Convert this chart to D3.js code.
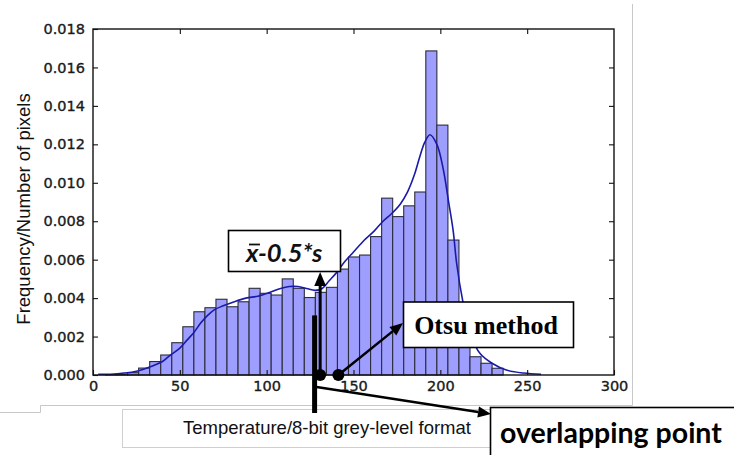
<!DOCTYPE html>
<html>
<head>
<meta charset="utf-8">
<script src="https://cdn.jsdelivr.net/npm/d3@7"></script>
<style>
  body { margin: 0; background: #fff; }
  svg { display: block; }
</style>
</head>
<body>
<svg width="734" height="455"></svg>
<script>
// histogram bin edges (grey level) and bar heights (density)
var binEdges = [7.2, 13.56, 19.92, 26.28, 32.64, 39.0, 45.36, 51.72, 58.08, 64.44,
    70.8, 77.16, 83.52, 89.88, 96.24, 102.6, 108.96, 115.32, 121.68, 128.04,
    134.4, 140.76, 147.12, 153.48, 159.84, 166.2, 172.56, 178.92, 185.28, 191.64,
    198.0, 204.36, 210.72, 217.08, 223.44, 229.8, 236.16];
var density = [0.00002, 0.00004, 0.00012, 0.00036, 0.00070, 0.00104, 0.00168, 0.00251, 0.00329, 0.00350,
    0.00394, 0.00355, 0.00381, 0.00451, 0.00425, 0.00416, 0.00500, 0.00451, 0.00403, 0.00430,
    0.00456, 0.00551, 0.00614, 0.00624, 0.00720, 0.00920, 0.00824, 0.00880, 0.00952, 0.01686,
    0.01300, 0.00702, 0.00280, 0.00095, 0.00061, 0.00035];

// kde curve
var kdeX = [3, 10, 18, 25, 33, 40, 44, 50, 54, 58, 62, 66, 70, 75, 81, 88, 95, 102, 108, 113,
    118, 123, 128, 132, 136, 140, 145, 150, 156, 162, 167, 172, 177, 181, 185, 188, 191, 194, 198,
    201.7, 204.6, 207.4, 209.4, 213, 217, 223, 230, 238, 248, 258];
var kdeY = [0.00003, 0.00004, 0.0001, 0.0002, 0.00043, 0.0007, 0.001, 0.0014, 0.0018, 0.0022,
    0.0027, 0.0031, 0.0034, 0.0036, 0.0038, 0.0040, 0.0041, 0.0043, 0.0045, 0.0046,
    0.0046, 0.0045, 0.0044, 0.0045, 0.0049, 0.0053, 0.0059, 0.0064, 0.0070, 0.0075,
    0.0080, 0.0084, 0.0089, 0.0095, 0.0104, 0.0113, 0.0121, 0.0125, 0.0120,
    0.0107, 0.0091, 0.0075, 0.0058, 0.0038, 0.0022, 0.0011, 0.0006, 0.00026, 0.0001, 0.00004];

var xTicks = [0, 50, 100, 150, 200, 250, 300];
var yTicks = [0, 0.002, 0.004, 0.006, 0.008, 0.010, 0.012, 0.014, 0.016, 0.018];

// threshold markers (grey level)
var meanMinusHalfS = 130.8;
var otsuLevel = 141.3;
var overlapLevel = 127.6;

var svg = d3.select("svg"),
    width = +svg.attr("width"),
    height = +svg.attr("height");

var x = d3.scaleLinear().domain([0, 300]).range([93, 614]);
var y = d3.scaleLinear().domain([0, 0.018]).range([375, 29]);

svg.append("rect").attr("width", width).attr("height", height).attr("fill", "#fff");

// grey page frame bits
svg.append("polyline")
    .attr("points", "0,412.5 40.5,412.5 40.5,405.5 632.5,405.5 632.5,4")
    .attr("fill", "none")
    .attr("stroke", "#c8c8c8")
    .attr("stroke-width", 1);

// bars
svg.selectAll("rect.bar")
    .data(density)
    .enter().append("rect")
    .attr("class", "bar")
    .attr("x", function(d, i) { return x(binEdges[i]); })
    .attr("width", function(d, i) { return x(binEdges[i + 1]) - x(binEdges[i]); })
    .attr("y", function(d) { return y(d); })
    .attr("height", function(d) { return y(0) - y(d); })
    .attr("fill", "#9e9eff")
    .attr("stroke", "#2c2c3c")
    .attr("stroke-width", 1.1);

// kde line
var line = d3.line()
    .x(function(d, i) { return x(kdeX[i]); })
    .y(function(d) { return y(d); })
    .curve(d3.curveCatmullRom.alpha(0.5));

svg.append("path")
    .datum(kdeY)
    .attr("d", line)
    .attr("fill", "none")
    .attr("stroke", "#1a1aa8")
    .attr("stroke-width", 1.6);

// axes, ticks pointing inwards on all four sides
function styleAxis(g) {
    g.select(".domain").remove();
    g.selectAll(".tick line").attr("stroke", "#111").attr("stroke-width", 1.1);
    g.selectAll(".tick text")
        .attr("fill", "#1a1a1a")
        .attr("stroke", "#1a1a1a")
        .attr("stroke-width", 0.35)
        .style("font-family", "DejaVu Sans")
        .style("font-size", "14.5px");
}

svg.append("g")
    .attr("transform", "translate(0," + y(0) + ")")
    .call(d3.axisBottom(x).tickValues(xTicks).tickSize(-5).tickPadding(6).tickFormat(d3.format("d")))
    .call(styleAxis);

svg.append("g")
    .attr("transform", "translate(" + x(0) + ",0)")
    .call(d3.axisLeft(y).tickValues(yTicks).tickSize(-5).tickPadding(8).tickFormat(d3.format(".3f")))
    .call(styleAxis);

svg.append("g")
    .attr("transform", "translate(0," + y(0.018) + ")")
    .call(d3.axisTop(x).tickValues(xTicks.slice(1, -1)).tickSize(-5).tickFormat(""))
    .call(styleAxis);

svg.append("g")
    .attr("transform", "translate(" + x(300) + ",0)")
    .call(d3.axisRight(y).tickValues(yTicks.slice(1, -1)).tickSize(-5).tickFormat(""))
    .call(styleAxis);

svg.append("rect")
    .attr("x", x(0)).attr("y", y(0.018))
    .attr("width", x(300) - x(0)).attr("height", y(0) - y(0.018))
    .attr("fill", "none")
    .attr("stroke", "#111")
    .attr("stroke-width", 1.4);

// y label
svg.append("text")
    .attr("transform", "translate(30,209) rotate(-90)")
    .attr("text-anchor", "middle")
    .style("font-family", "Liberation Sans")
    .style("font-size", "18.5px")
    .attr("fill", "#111")
    .text("Frequency/Number of pixels");

// x label box
svg.append("rect")
    .attr("x", 122.5).attr("y", 409.5).attr("width", 380).attr("height", 38)
    .attr("fill", "#fff").attr("stroke", "#cfcfcf");
svg.append("text")
    .attr("x", 327).attr("y", 434)
    .attr("text-anchor", "middle")
    .style("font-family", "Liberation Sans")
    .style("font-size", "18.5px")
    .attr("fill", "#111")
    .text("Temperature/8-bit grey-level format");

// annotations
function arrow(x1, y1, x2, y2, w, head) {
    var dx = x2 - x1, dy = y2 - y1, len = Math.sqrt(dx * dx + dy * dy);
    var ux = dx / len, uy = dy / len;
    var bx = x2 - ux * head, by = y2 - uy * head;
    var hw = head * 0.42;
    svg.append("line")
        .attr("x1", x1).attr("y1", y1).attr("x2", bx).attr("y2", by)
        .attr("stroke", "#000").attr("stroke-width", w);
    svg.append("path")
        .attr("d", "M" + x2 + "," + y2 +
            "L" + (bx - uy * hw) + "," + (by + ux * hw) +
            "L" + (bx + uy * hw) + "," + (by - ux * hw) + "Z")
        .attr("fill", "#000");
}

// thick marker for the overlapping point
svg.append("line")
    .attr("x1", x(overlapLevel)).attr("y1", y(0.0031))
    .attr("x2", x(overlapLevel)).attr("y2", y(0) + 38)
    .attr("stroke", "#000").attr("stroke-width", 5);

arrow(x(overlapLevel) + 2, y(0) + 12, 491, 414, 2.5, 13);

// mean - 0.5 s
arrow(x(meanMinusHalfS), y(0), x(meanMinusHalfS), 272, 3, 14);
svg.append("circle").attr("cx", x(meanMinusHalfS)).attr("cy", y(0)).attr("r", 6).attr("fill", "#000");

// otsu
arrow(x(otsuLevel), y(0), 403, 323, 2.5, 13);
svg.append("circle").attr("cx", x(otsuLevel)).attr("cy", y(0)).attr("r", 6).attr("fill", "#000");

// label boxes
svg.append("rect")
    .attr("x", 228.5).attr("y", 230.5).attr("width", 112).attr("height", 41)
    .attr("fill", "#fff").attr("stroke", "#000").attr("stroke-width", 1.6);
var mtxt = svg.append("text")
    .attr("x", 246).attr("y", 262)
    .style("font-family", "Lato")
    .style("font-weight", "bold")
    .style("font-style", "italic")
    .style("font-size", "25.5px")
    .attr("fill", "#111");
var xt = mtxt.append("tspan").text("x");
mtxt.append("tspan").text("-0.5*s");
var xw = xt.node().getComputedTextLength();
svg.append("line")
    .attr("x1", 249).attr("x2", 246 + xw + 2)
    .attr("y1", 244.5).attr("y2", 244.5)
    .attr("stroke", "#111").attr("stroke-width", 1.8);

svg.append("rect")
    .attr("x", 403.5).attr("y", 302).attr("width", 170).attr("height", 45.5)
    .attr("fill", "#fff").attr("stroke", "#000").attr("stroke-width", 1.6);
svg.append("text")
    .attr("x", 486).attr("y", 334)
    .attr("text-anchor", "middle")
    .style("font-family", "Liberation Serif")
    .style("font-weight", "bold")
    .style("font-size", "26px")
    .attr("fill", "#000")
    .text("Otsu method");

svg.append("rect")
    .attr("x", 490.5).attr("y", 407.5).attr("width", 260).attr("height", 60)
    .attr("fill", "#fff").attr("stroke", "#000").attr("stroke-width", 1.6);
svg.append("text")
    .attr("x", 500).attr("y", 443)
    .style("font-family", "Lato")
    .style("font-weight", "bold")
    .style("font-size", "28.5px")
    .attr("fill", "#000")
    .text("overlapping point");
</script>
</body>
</html>
